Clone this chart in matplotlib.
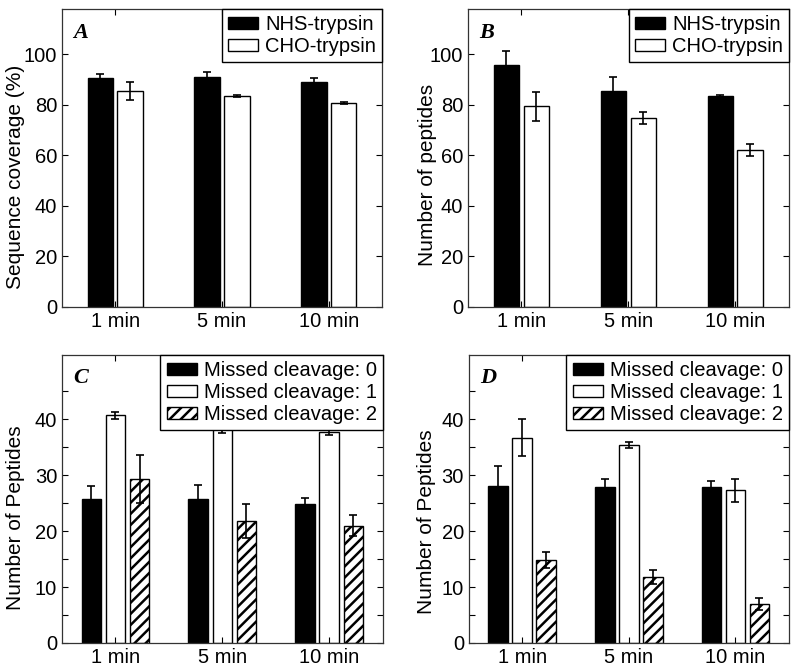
import matplotlib
matplotlib.use('Agg')
import matplotlib.pyplot as plt
import numpy as np

plt.rcParams['font.family'] = ['Liberation Sans', 'DejaVu Sans']
plt.rcParams['hatch.linewidth'] = 1.8

times = ['1 min', '5 min', '10 min']

# panel A - sequence coverage (%)
a_nhs = [90.5, 91.1, 88.9]
a_nhs_err = [1.7, 1.8, 1.7]
a_cho = [85.5, 83.4, 80.8]
a_cho_err = [3.5, 0.4, 0.5]

# panel B - number of peptides
b_nhs = [95.9, 85.4, 83.5]
b_nhs_err = [5.4, 5.6, 0.5]
b_cho = [79.5, 74.8, 62.2]
b_cho_err = [5.7, 2.3, 2.3]

# panel C - missed cleavages
c_mc0 = [25.8, 25.8, 24.8]
c_mc0_err = [2.2, 2.5, 1.1]
c_mc1 = [40.7, 38.2, 37.8]
c_mc1_err = [0.6, 0.6, 0.6]
c_mc2 = [29.3, 21.8, 21.0]
c_mc2_err = [4.3, 3.1, 1.8]

# panel D - missed cleavages
d_mc0 = [28.1, 27.8, 27.8]
d_mc0_err = [3.6, 1.5, 1.1]
d_mc1 = [36.7, 35.4, 27.3]
d_mc1_err = [3.3, 0.6, 2.1]
d_mc2 = [14.8, 11.8, 7.0]
d_mc2_err = [1.4, 1.2, 1.05]

FS = 14.5
x = np.arange(1, 4)
err_kw = dict(ecolor='black', elinewidth=1.2, capsize=3, capthick=1.2)

fig = plt.figure(figsize=(8, 6.72), dpi=100)
axA = fig.add_axes([0.0775, 0.5432, 0.400, 0.4435])
axB = fig.add_axes([0.585, 0.5432, 0.401, 0.4435])
axC = fig.add_axes([0.0775, 0.0432, 0.401, 0.4286])
axD = fig.add_axes([0.586, 0.0432, 0.400, 0.4286])


def style(ax, ylim, major, minor, ylabel, letter, label_xy):
    ax.set_xlim(0.5, 3.5)
    ax.set_ylim(*ylim)
    ax.set_xticks(x)
    ax.set_xticklabels(times, fontsize=FS)
    ax.set_yticks(major)
    ax.set_yticks(minor, minor=True)
    ax.tick_params(axis='both', which='both', direction='in', top=True, right=True,
                   length=4, width=0.8, labelsize=FS)
    ax.set_ylabel(ylabel, fontsize=15)
    ax.yaxis.set_label_coords(*label_xy)
    for s in ax.spines.values():
        s.set_linewidth(0.9)
        s.set_color('#333333')
    ax.text(0.035, 0.92, letter, transform=ax.transAxes, fontsize=16,
            fontweight='bold', fontstyle='italic', family='Liberation Serif',
            ha='left', va='center')


def legend(ax):
    leg = ax.legend(loc='upper right', borderaxespad=0, fancybox=False,
                    fontsize=FS, handlelength=1.5, handleheight=0.55,
                    handletextpad=0.35, labelspacing=0.15, borderpad=0.3,
                    framealpha=1)
    leg.get_frame().set_edgecolor('black')
    leg.get_frame().set_linewidth(1.0)
    leg.set_zorder(10)


def two_bars(ax, v1, e1, v2, e2):
    w = 0.24
    ax.bar(x - 0.14, v1, w, color='black', edgecolor='black', linewidth=1,
           yerr=e1, error_kw=err_kw, label='NHS-trypsin')
    ax.bar(x + 0.14, v2, w, color='white', edgecolor='black', linewidth=1,
           yerr=e2, error_kw=err_kw, label='CHO-trypsin')


def three_bars(ax, v0, e0, v1, e1, v2, e2):
    w = 0.185
    ax.bar(x - 0.225, v0, w, color='black', edgecolor='black', linewidth=1,
           yerr=e0, error_kw=err_kw, label='Missed cleavage: 0')
    ax.bar(x, v1, w, color='white', edgecolor='black', linewidth=1,
           yerr=e1, error_kw=err_kw, label='Missed cleavage: 1')
    ax.bar(x + 0.225, v2, w, color='white', edgecolor='black', linewidth=1,
           hatch='///', yerr=e2, error_kw=err_kw, label='Missed cleavage: 2')


two_bars(axA, a_nhs, a_nhs_err, a_cho, a_cho_err)
style(axA, (0, 118), np.arange(0, 101, 20), [], 'Sequence coverage (%)', 'A', (-0.116, 0.436))
legend(axA)

two_bars(axB, b_nhs, b_nhs_err, b_cho, b_cho_err)
style(axB, (0, 118), np.arange(0, 101, 20), [], 'Number of peptides', 'B', (-0.098, 0.443))
legend(axB)

three_bars(axC, c_mc0, c_mc0_err, c_mc1, c_mc1_err, c_mc2, c_mc2_err)
style(axC, (0, 51.5), np.arange(0, 41, 10), np.arange(5, 50, 10), 'Number of Peptides', 'C', (-0.116, 0.434))
legend(axC)

three_bars(axD, d_mc0, d_mc0_err, d_mc1, d_mc1_err, d_mc2, d_mc2_err)
style(axD, (0, 51.5), np.arange(0, 41, 10), np.arange(5, 50, 10), 'Number of Peptides', 'D', (-0.101, 0.42))
legend(axD)

fig.savefig('out.png', dpi=100)
